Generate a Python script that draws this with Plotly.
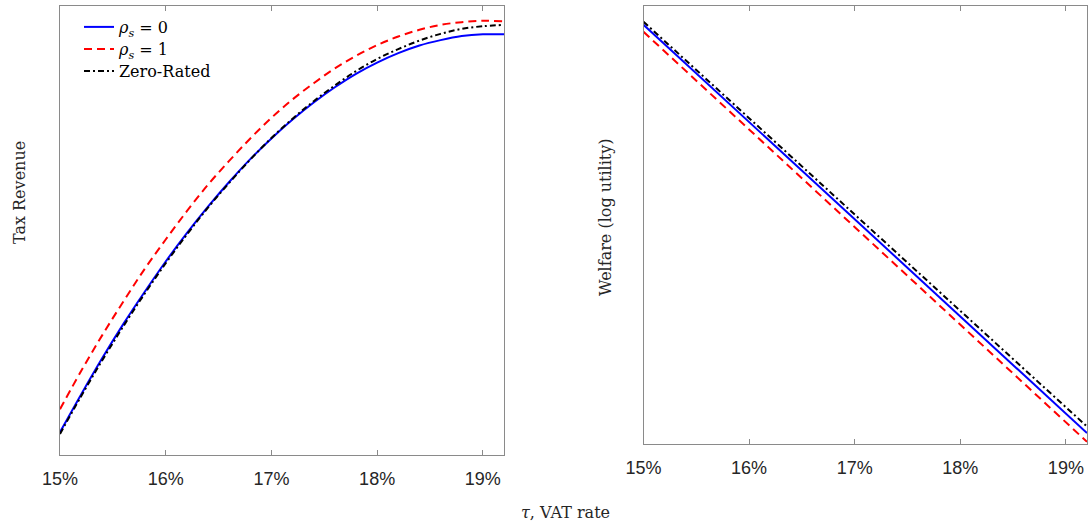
import plotly.graph_objects as go

# VAT rate (tau)
tau = [0.150, 0.152, 0.154, 0.156, 0.158, 0.160, 0.162, 0.164, 0.166, 0.168, 0.170,
       0.172, 0.174, 0.176, 0.178, 0.180, 0.182, 0.184, 0.186, 0.188, 0.190, 0.192]

# Tax revenue (arbitrary units, no labels in the original)
rev_rho0 = [0.051, 0.135, 0.216, 0.292, 0.363, 0.431, 0.494, 0.553, 0.608, 0.659, 0.705,
            0.747, 0.785, 0.819, 0.849, 0.874, 0.895, 0.912, 0.924, 0.933, 0.937, 0.937]
rev_rho1 = [0.102, 0.187, 0.267, 0.342, 0.414, 0.480, 0.543, 0.602, 0.655, 0.705, 0.751,
            0.792, 0.828, 0.861, 0.889, 0.913, 0.932, 0.947, 0.958, 0.964, 0.967, 0.966]
rev_zero = [0.047, 0.131, 0.211, 0.287, 0.359, 0.427, 0.491, 0.551, 0.606, 0.658, 0.706,
            0.749, 0.788, 0.823, 0.855, 0.882, 0.904, 0.923, 0.938, 0.949, 0.955, 0.958]

# Welfare (log utility, arbitrary units)
tau_w = [0.15, 0.16, 0.17, 0.18, 0.19, 0.192]
wel_rho0 = [0.957, 0.735, 0.513, 0.291, 0.069, 0.025]
wel_rho1 = [0.941, 0.718, 0.495, 0.272, 0.050, 0.005]
wel_zero = [0.964, 0.744, 0.524, 0.304, 0.084, 0.040]

x_ticks = [0.15, 0.16, 0.17, 0.18, 0.19]
labels = ["<i>ρ<sub>s</sub></i> = 0", "<i>ρ<sub>s</sub></i> = 1", "Zero-Rated"]

BLUE, RED, BLACK = "#0000ff", "#ff0000", "#000000"
DASH_RED = "8px,5px"
DASH_BLACK = "6px,3px,2px,3px"

fig = go.Figure()

fig.add_trace(go.Scatter(x=tau, y=rev_rho0, mode="lines", name=labels[0], legend="legend",
                         line=dict(color=BLUE, width=2, shape="spline"), xaxis="x", yaxis="y"))
fig.add_trace(go.Scatter(x=tau, y=rev_rho1, mode="lines", name=labels[1], legend="legend2",
                         line=dict(color=RED, width=2, dash=DASH_RED, shape="spline"), xaxis="x", yaxis="y"))
fig.add_trace(go.Scatter(x=tau, y=rev_zero, mode="lines", name=labels[2], legend="legend3",
                         line=dict(color=BLACK, width=2, dash=DASH_BLACK, shape="spline"), xaxis="x", yaxis="y"))

fig.add_trace(go.Scatter(x=tau_w, y=wel_rho0, mode="lines", showlegend=False,
                         line=dict(color=BLUE, width=2), xaxis="x2", yaxis="y2"))
fig.add_trace(go.Scatter(x=tau_w, y=wel_rho1, mode="lines", showlegend=False,
                         line=dict(color=RED, width=2, dash=DASH_RED), xaxis="x2", yaxis="y2"))
fig.add_trace(go.Scatter(x=tau_w, y=wel_zero, mode="lines", showlegend=False,
                         line=dict(color=BLACK, width=2, dash=DASH_BLACK), xaxis="x2", yaxis="y2"))

W, H = 1088, 526
AX = "#8a8a8a"
TXT = "#262626"
SERIF = "DejaVu Serif, serif"
tickfont = dict(family="Liberation Sans, Arial, sans-serif", size=18, color=TXT)

def xax(domain, anchor):
    return dict(domain=domain, anchor=anchor, range=[0.15, 0.192], tickvals=x_ticks,
                tickformat=".0%", ticks="inside", ticklen=5, tickcolor=AX, tickwidth=1,
                ticklabelstandoff=7,
                showline=True, linecolor=AX, linewidth=1.3, mirror="ticks", automargin=False,
                showgrid=False, zeroline=False, tickfont=tickfont, fixedrange=True)

def yax(domain, anchor):
    return dict(domain=domain, anchor=anchor, range=[0, 1], showticklabels=False,
                ticks="", showline=True, linecolor=AX, linewidth=1.3, mirror=True,
                automargin=False,
                showgrid=False, zeroline=False, fixedrange=True)

def leg(ypix):
    return dict(x=79 / W, y=1 - ypix / H, xanchor="left", yanchor="middle",
                bgcolor="rgba(0,0,0,0)", borderwidth=0, itemwidth=30,
                font=dict(family=SERIF, size=16, color="#000"))

fig.update_layout(
    width=W, height=H,
    margin=dict(l=0, r=0, t=0, b=0, pad=0, autoexpand=False),
    paper_bgcolor="white", plot_bgcolor="white",
    xaxis=xax([60 / W, 504 / W], "y"),
    yaxis=yax([71 / H, 520 / H], "x"),
    xaxis2=xax([643.5 / W, 1087 / W], "y2"),
    yaxis2=yax([82 / H, 520 / H], "x2"),
    showlegend=True,
    legend=leg(27),
    legend2=leg(49),
    legend3=leg(71),
    font=dict(family=SERIF, color=TXT),
    annotations=[
        dict(text="<i>τ</i>, VAT rate", x=565 / W, y=1 - 512 / H, xref="paper", yref="paper",
             showarrow=False, font=dict(family=SERIF, size=16, color=TXT),
             xanchor="center", yanchor="middle"),
        dict(text="Tax Revenue", x=20 / W, y=1 - 193 / H, xref="paper", yref="paper",
             showarrow=False, textangle=-90,
             font=dict(family=SERIF, size=16, color=TXT),
             xanchor="center", yanchor="middle"),
        dict(text="Welfare (log utility)", x=605 / W, y=1 - 217 / H, xref="paper", yref="paper",
             showarrow=False, textangle=-90,
             font=dict(family=SERIF, size=16, color=TXT),
             xanchor="center", yanchor="middle"),
    ],
)

fig.write_html("out.html")
